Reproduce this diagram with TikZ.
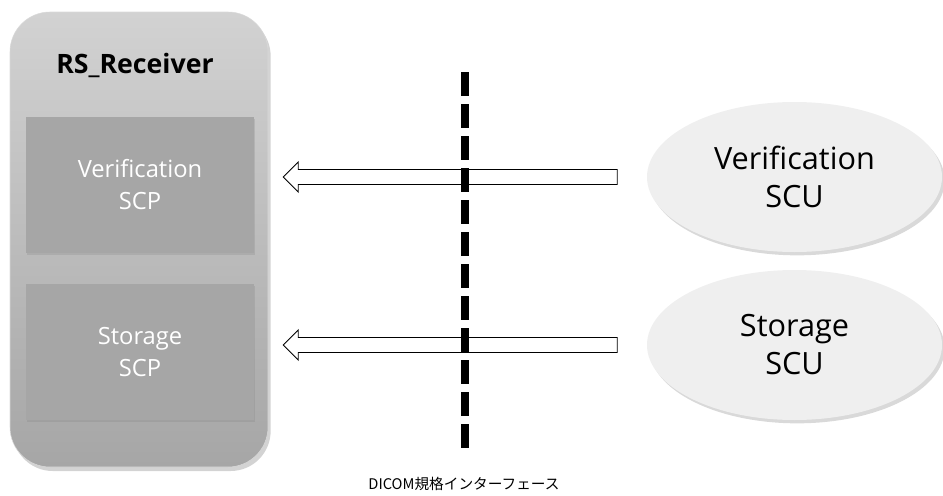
\documentclass[tikz,border=0pt]{standalone}
\usepackage{fontspec}
\setmainfont{Open Sans}
\newfontfamily\jpfont{Noto Sans CJK JP}
\usetikzlibrary{calc,shadows,shapes.geometric}
\definecolor{boxtop}{HTML}{D2D2D2}
\definecolor{boxbot}{HTML}{A6A6A6}
\definecolor{scpfill}{HTML}{A6A6A6}
\definecolor{scufill}{HTML}{EFEFEF}

\begin{document}
\begin{tikzpicture}[x=0.75pt,y=-0.75pt,
        receiver/.style={rounded corners=30pt,draw=white!85!black,top color=boxtop,bottom color=boxbot,
            minimum width=193.5pt,minimum height=341.25pt,
            drop shadow={shadow xshift=2pt,shadow yshift=-3pt,opacity=0.35}},
        scpbox/.style={fill=scpfill,minimum width=171pt,minimum height=102pt,align=center,text=white,
            font=\fontsize{17.8}{24}\selectfont,
            drop shadow={shadow xshift=1pt,shadow yshift=-1.5pt,opacity=0.25}},
        scuell/.style={ellipse,fill=scufill,minimum width=221.25pt,minimum height=112.5pt,align=center,
            font=\fontsize{23}{28.5}\selectfont,
            drop shadow={shadow xshift=2pt,shadow yshift=-2.5pt,opacity=0.3}},
        blockarrow/.style={draw=black,fill=white,line width=0.7pt,line join=miter},
        ifline/.style={line width=6pt,dash pattern=on 18pt off 6pt}]
        \useasboundingbox (0,0) rectangle (943,496);

        % RS_Receiver
        \node[receiver] (rcv) at (139,239.5) {};
        \node[font=\bfseries\fontsize{20}{25}\selectfont] (rcvtitle) at (135,65) {RS\_Receiver};
        \node[scpbox] (verscp) at (140,185) {Verification\\SCP};
        \node[scpbox] (stoscp) at (140,352) {Storage\\SCP};

        % SCU
        \node[scuell] (verscu) at (794.5,177) {Verification\\SCU};
        \node[scuell] (stoscu) at (794.5,345) {Storage\\SCU};

        % arrows
        \coordinate (vertip) at ($(rcv.east |- verscu)+(15,0)$);
        \coordinate (stotip) at ($(rcv.east |- stoscu)+(15,0)$);
        \draw[blockarrow] (vertip) -- ++(15,-15) -- ++(0,7.5) -- ++(319,0) -- ++(0,15) -- ++(-319,0) -- ++(0,7.5) -- cycle;
        \draw[blockarrow] (stotip) -- ++(15,-15) -- ++(0,7.5) -- ++(319,0) -- ++(0,15) -- ++(-319,0) -- ++(0,7.5) -- cycle;

        % interface
        \coordinate (iftop) at (465,72);
        \coordinate (ifbot) at (465,448);
        \draw[ifline] (iftop) -- (ifbot);
        \node[font=\jpfont\fontsize{11}{13}\selectfont] (iflabel) at (464,484) {DICOM規格インターフェース};

    \end{tikzpicture}
\end{document}
